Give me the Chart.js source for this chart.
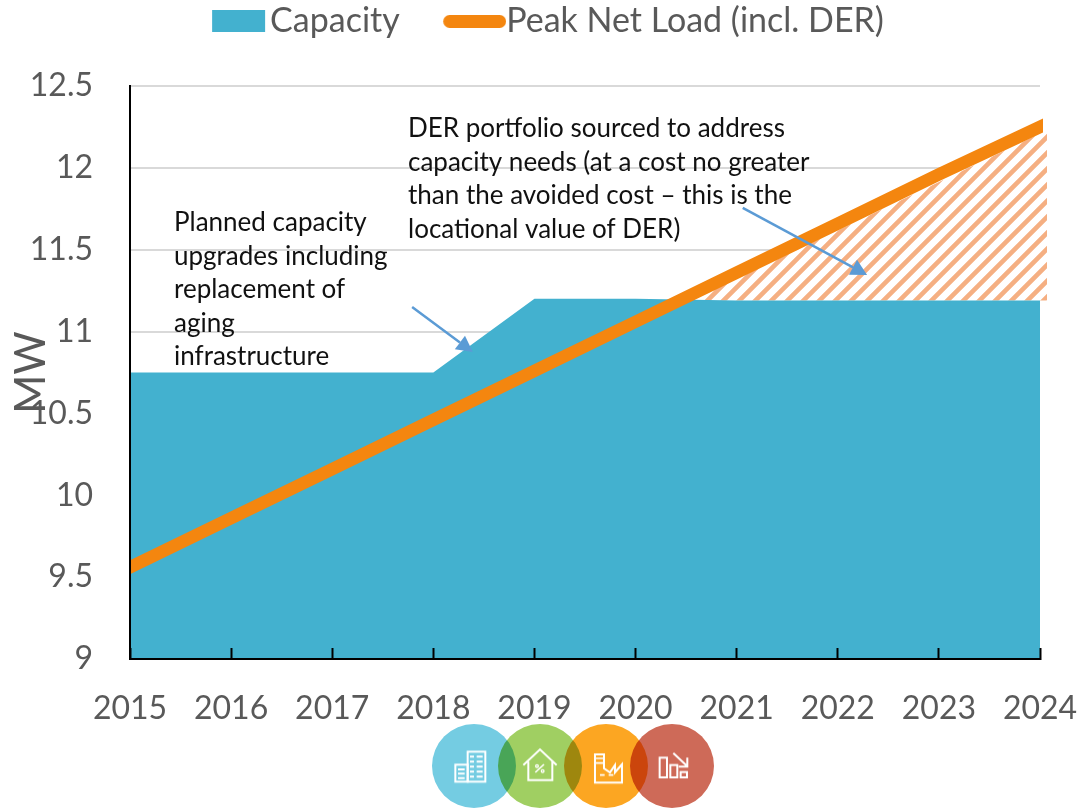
<!DOCTYPE html>
<html>
<head>
<meta charset="utf-8">
<script src="https://cdn.jsdelivr.net/npm/chart.js@4/dist/chart.umd.min.js"></script>
<style>
html,body{margin:0;padding:0;background:#fff;width:1080px;height:808px;overflow:hidden}
#wrap{position:relative;width:1080px;height:808px}
canvas{display:block}
#icons{position:absolute;left:0;top:0;pointer-events:none}
#icons circle{mix-blend-mode:multiply}
#icons g circle{mix-blend-mode:normal}
</style>
</head>
<body>
<div id="wrap">
<canvas id="c" width="1080" height="808"></canvas>
<svg id="icons" width="1080" height="808" viewBox="0 0 1080 808">
  <circle cx="474" cy="766" r="42" fill="#74CCE2"/>
  <circle cx="540" cy="766" r="42" fill="#A0CF62"/>
  <circle cx="606" cy="766" r="42" fill="#FCA622"/>
  <circle cx="672" cy="766" r="42" fill="#CE6A58"/>
  <g transform="translate(420 715) scale(0.3333)" fill="none" stroke="#fff" stroke-width="6">
    <rect x="143" y="110" width="53" height="90"/>
    <rect x="106" y="149" width="37" height="51"/>
    <path d="M150 125h12M170 125h18M150 140h12M170 140h18M150 155h12M170 155h18M150 170h12M170 170h18M150 185h12M170 185h18M114 163h20M114 176h20M114 189h20"/>
    <path d="M310 150L360 103L410 150M325 140V195H397V140"/>
    <path d="M346 172L372 148" stroke-width="5"/>
    <circle cx="351" cy="153" r="4" stroke-width="4"/><circle cx="368" cy="168" r="4" stroke-width="4"/>
    <path d="M525 118H552V160L570 172L585 150V172L606 148V203H525Z"/>
    <path d="M528 130H550M528 144H550M540 180h14M566 180h14" stroke-width="5"/>
    <rect x="719" y="128" width="22" height="59"/>
    <rect x="751" y="150" width="21" height="37"/>
    <rect x="782" y="171" width="19" height="16"/>
    <path d="M760 114L800 152M802 128V155H776"/>
  </g>
</svg>
</div>
<script>
// ---- chart values ----
const years = [2015, 2016, 2017, 2018, 2019, 2020, 2021, 2022, 2023, 2024];
const capacity = [10.75, 10.75, 10.75, 10.75, 11.2, 11.2, 11.19, 11.19, 11.19, 11.19];
const peakNetLoad = [9.56, 9.86, 10.16, 10.46, 10.76, 11.06, 11.36, 11.66, 11.96, 12.25];
const derGapX = [2020.62, 2024.07];
const derGapY = [11.21, 12.23];
const derBase = 11.19;
const seriesNames = ['Capacity', 'Peak Net Load (incl. DER)', 'DER portfolio'];
const yTicks = { min: 9, max: 12.5, step: 0.5 };
const yTitle = 'MW';
const noteLeft = ['Planned capacity', 'upgrades including', 'replacement of', 'aging', 'infrastructure'];
const noteRight = ['DER portfolio sourced to address', 'capacity needs (at a cost no greater', 'than the avoided cost \u2013 this is the', 'locational value of DER)'];
const arrowLeft = [[2017.79, 11.15], [2018.39, 10.875]];
const arrowRight = [[2021.06, 11.755], [2022.29, 11.346]];
// --------------------------------------------

const BLUE = '#43B1CF', ORANGE = '#F4860F', GREY = '#595959', FONT = 'Lato';

function pairs(xs, ys) { return xs.map((x, i) => ({ x: x, y: ys[i] })); }

function hatchPattern() {
  const s = 16, t = document.createElement('canvas');
  t.width = s; t.height = s;
  const g = t.getContext('2d');
  g.fillStyle = '#fff';
  g.fillRect(0, 0, s, s);
  g.strokeStyle = '#F5AF82';
  g.lineWidth = 4.6;
  g.beginPath();
  for (let k = -s; k <= s; k += s) { g.moveTo(k - s, 2 * s); g.lineTo(k + 2 * s, -s); }
  g.stroke();
  return g.createPattern(t, 'repeat');
}

function swatch(color, w, h, gap, round) {
  const c = document.createElement('canvas');
  c.width = 93; c.height = h;
  const g = c.getContext('2d');
  g.fillStyle = color;
  g.beginPath();
  if (round) g.roundRect(93 - gap - w, 0, w, h, h / 2);
  else g.rect(93 - gap - w, 0, w, h);
  g.fill();
  return c;
}
const legendIcons = [swatch(BLUE, 53, 22, 5, false), swatch(ORANGE, 63, 13, 0, true)];

const overflowPlugin = {
  id: 'overflow',
  beforeDatasetsDraw(chart) { chart.chartArea.right += 8; },
  afterDatasetsDraw(chart) { chart.chartArea.right -= 8; }
};

const legendPlacement = {
  id: 'legendPlacement',
  beforeLayout(chart) {
    const lg = chart.legend;
    if (lg && !lg._fixedFit) {
      const fit = lg.fit;
      lg.fit = function () { fit.call(this); this.height = 86; };
      lg._fixedFit = true;
    }
  },
  afterLayout(chart) {
    if (chart.legend) {
      chart.legend.top = -26;
      chart.legend.left += 19;
      chart.legend.right += 19;
    }
  }
};

function arrow(ctx, chart, seg) {
  const sx = chart.scales.x, sy = chart.scales.y;
  const x0 = sx.getPixelForValue(seg[0][0]), y0 = sy.getPixelForValue(seg[0][1]);
  const x1 = sx.getPixelForValue(seg[1][0]), y1 = sy.getPixelForValue(seg[1][1]);
  const a = Math.atan2(y1 - y0, x1 - x0), L = 16, W = 8.5;
  const bx = x1 - L * Math.cos(a), by = y1 - L * Math.sin(a);
  ctx.strokeStyle = '#5B9BD5'; ctx.fillStyle = '#5B9BD5'; ctx.lineWidth = 2.5;
  ctx.beginPath(); ctx.moveTo(x0, y0); ctx.lineTo(bx, by); ctx.stroke();
  ctx.beginPath(); ctx.moveTo(x1, y1);
  ctx.lineTo(bx - W * Math.sin(a), by + W * Math.cos(a));
  ctx.lineTo(bx + W * Math.sin(a), by - W * Math.cos(a));
  ctx.closePath(); ctx.fill();
}

const notesPlugin = {
  id: 'notes',
  afterDraw(chart) {
    const ctx = chart.ctx;
    ctx.save();
    ctx.fillStyle = '#111';
    ctx.font = '26px ' + FONT;
    ctx.textBaseline = 'alphabetic';
    ctx.textAlign = 'left';
    noteLeft.forEach((t, i) => ctx.fillText(t, 174, 231 + i * 33.6));
    noteRight.forEach((t, i) => ctx.fillText(t, 408, 137 + i * 33.6));
    arrow(ctx, chart, arrowLeft);
    arrow(ctx, chart, arrowRight);
    ctx.restore();
  }
};

new Chart(document.getElementById('c'), {
  type: 'line',
  data: {
    datasets: [
      { label: seriesNames[1], data: pairs(years, peakNetLoad), borderColor: ORANGE, backgroundColor: ORANGE,
        borderWidth: 12.5, borderCapStyle: 'square', pointRadius: 0, fill: false, tension: 0, order: 0,
        clip: { left: 1, top: 30, right: 3, bottom: 0 } },
      { label: seriesNames[0], data: pairs(years, capacity), borderWidth: 0, borderColor: BLUE, backgroundColor: BLUE,
        pointRadius: 0, fill: 'origin', tension: 0, order: 1 },
      { label: seriesNames[2], data: pairs(derGapX, derGapY), borderWidth: 0, borderColor: 'transparent',
        backgroundColor: hatchPattern(), pointRadius: 0, fill: { value: derBase }, tension: 0, order: 2,
        clip: { left: 0, top: 0, right: 8, bottom: 0 } }
    ]
  },
  plugins: [overflowPlugin, legendPlacement, notesPlugin],
  options: {
    responsive: false,
    animation: false,
    events: [],
    layout: { padding: { top: 0, right: 40, bottom: 0, left: 0 } },
    plugins: {
      tooltip: { enabled: false },
      legend: {
        display: true,
        position: 'top',
        labels: {
          usePointStyle: true,
          pointStyleWidth: 59,
          padding: 30.4,
          color: GREY,
          font: { family: FONT, size: 34 },
          generateLabels: () => [
            { text: seriesNames[0], pointStyle: legendIcons[0], fontColor: GREY, lineWidth: 0, datasetIndex: 1 },
            { text: seriesNames[1], pointStyle: legendIcons[1], fontColor: GREY, lineWidth: 0, datasetIndex: 0 }
          ]
        }
      }
    },
    scales: {
      x: {
        type: 'linear',
        min: years[0],
        max: years[years.length - 1],
        afterFit(s) { s.height = 149; s.paddingLeft = 0; s.paddingRight = 0; },
        afterBuildTicks(s) { s.ticks = years.map(v => ({ value: v })); },
        grid: { drawOnChartArea: false, drawTicks: true, tickLength: -11, tickColor: '#000', tickWidth: 2, color: '#000', z: 1 },
        border: { color: '#000', width: 2, z: 1 },
        ticks: { color: GREY, font: { family: FONT, size: 32 }, padding: 41, maxRotation: 0, autoSkip: false,
          callback: v => String(v) }
      },
      y: {
        min: yTicks.min,
        max: yTicks.max,
        afterFit(s) { s.width = 130; s.paddingTop = 0; s.paddingBottom = 0; },
        grid: { color: '#D9D9D9', lineWidth: 2, drawTicks: false },
        border: { color: '#000', width: 2, z: 1 },
        title: { display: true, text: yTitle, color: GREY, font: { family: FONT, size: 42 }, padding: { top: 6, bottom: 0 } },
        ticks: { stepSize: yTicks.step, color: GREY, font: { family: FONT, size: 32 }, padding: 37,
          callback: v => String(v) }
      }
    }
  }
});
</script>
</body>
</html>
